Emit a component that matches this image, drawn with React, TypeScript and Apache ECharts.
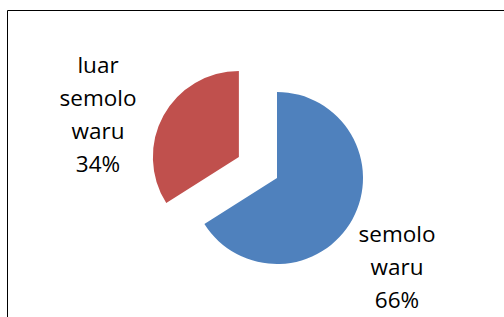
import React, { useEffect, useRef } from "react";
import * as echarts from "echarts";

const categories = ["semolo waru", "luar semolo waru"];
const values = [66, 34];
const colors = ["#4F81BD", "#C0504D"];
const explodedIndex = 1;
const labelPositions = [
  [397, 266],
  [98, 113.5],
];

export default function App() {
  const ref = useRef<HTMLDivElement>(null);
  useEffect(() => {
    if (!ref.current) return;
    const chart = echarts.init(ref.current, null, { renderer: "svg" });
    const total = values.reduce((a, b) => a + b, 0);
    const labelTexts = categories.map(
      (c, i) => c.split(" ").join("\n") + "\n" + Math.round((values[i] / total) * 100) + "%"
    );
    chart.setOption({
      animation: false,
      backgroundColor: "#ffffff",
      graphic: [
        {
          type: "rect",
          shape: { x: 7.5, y: 10.5, width: 600, height: 400 },
          style: { fill: "none", stroke: "#000000", lineWidth: 1 },
          silent: true,
        },
        ...labelTexts.map((t, i) => ({
          type: "text",
          x: labelPositions[i][0],
          y: labelPositions[i][1],
          silent: true,
          style: {
            text: t,
            fill: "#000000",
            fontFamily: "Open Sans",
            fontSize: 22.5,
            lineHeight: 33,
            align: "center",
            verticalAlign: "middle",
          },
        })),
      ],
      series: [
        {
          type: "pie",
          center: [277, 178],
          radius: [0, 86],
          startAngle: 90,
          clockwise: true,
          selectedMode: "multiple",
          selectedOffset: 43.5,
          label: { show: false },
          labelLine: { show: false },
          emphasis: { disabled: true },
          data: categories.map((c, i) => ({
            name: c,
            value: values[i],
            selected: i === explodedIndex,
            itemStyle: { color: colors[i] },
          })),
        },
      ],
    });
    return () => chart.dispose();
  }, []);
  return (
    <div
      ref={ref}
      style={{ position: "fixed", left: 0, top: 0, width: 504, height: 317 }}
    />
  );
}
